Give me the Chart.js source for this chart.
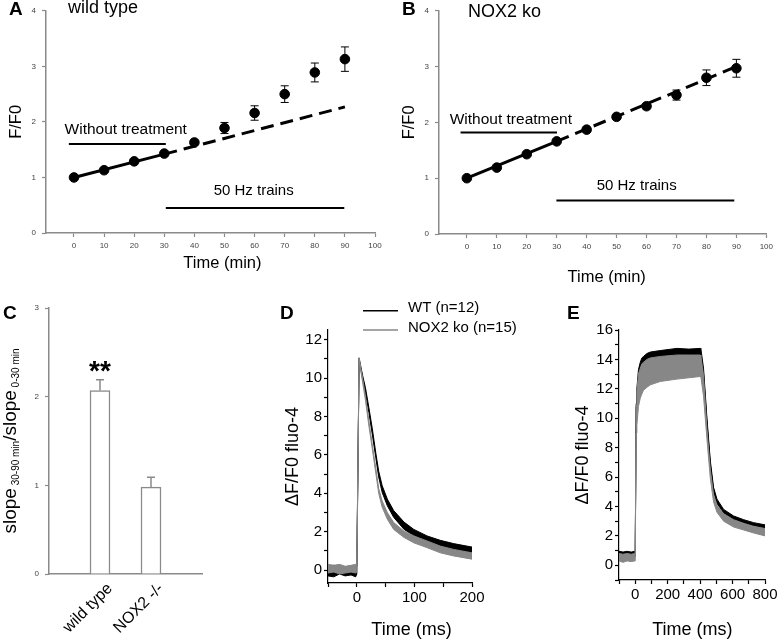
<!DOCTYPE html>
<html>
<head>
<meta charset="utf-8">
<script src="https://cdn.jsdelivr.net/npm/chart.js@4.4.1/dist/chart.umd.min.js"></script>
<style>
  body { margin: 0; background: #fff; }
  #page { position: relative; width: 777px; height: 642px; overflow: hidden; background: #fff; }
  canvas { position: absolute; }
</style>
</head>
<body>
<div id="page">
  <canvas id="panelA" width="390" height="280" style="left:0;top:0"></canvas>
  <canvas id="panelB" width="387" height="290" style="left:390px;top:0"></canvas>
  <canvas id="panelC" width="260" height="372" style="left:0;top:270px"></canvas>
  <canvas id="panelD" width="260" height="372" style="left:260px;top:270px"></canvas>
  <canvas id="panelE" width="262" height="372" style="left:520px;top:270px"></canvas>
</div>
<script>
const FONT = "'Liberation Sans', Arial, Helvetica, sans-serif";
const GREY = "#878787";
const AXIS_GREY = "#8a8a8a";

// A / B: F/F0 over time
const timeMin = [0, 10, 20, 30, 40, 50, 60, 70, 80, 90];
const wtRatio = [1.0, 1.13, 1.29, 1.43, 1.63, 1.89, 2.16, 2.50, 2.89, 3.13];
const wtRatioErr = [0.02, 0.02, 0.03, 0.03, 0.04, 0.10, 0.13, 0.15, 0.17, 0.22];
const koRatio = [1.0, 1.19, 1.43, 1.66, 1.87, 2.10, 2.29, 2.49, 2.80, 2.97];
const koRatioErr = [0.02, 0.03, 0.03, 0.03, 0.03, 0.03, 0.05, 0.09, 0.14, 0.16];
const fitTime = [0, 30, 90];
const wtFit = [1.0, 1.42, 2.27];
const koFit = [1.0, 1.66, 3.0];
const wtUntreatedTime = [-1.7, 30.5];
const wtUntreatedLevel = 1.6;
const wtTrainsTime = [30.5, 89.8];
const wtTrainsLevel = 0.45;
const koUntreatedTime = [-2.1, 30.1];
const koUntreatedLevel = 1.82;
const koTrainsTime = [29.9, 89.3];
const koTrainsLevel = 0.6;

// C: slope ratio
const slopeGroups = ["", "wild type", "NOX2 -/-", ""];
const slopeRatio = [null, 2.07, 0.98, null];
const slopeErr = [null, 0.12, 0.11, null];

// D: single transient (ms, dF/F0 envelope of the noisy traces)
const dTime = [-50, -40, -30, -20, -10, -2, 0, 4, 10, 15, 21, 27, 33, 38, 44, 53, 64, 82, 99, 122, 145, 168, 200];
const wtHiD = [0.2, 0.25, 0.2, 0.15, 0.2, 0.2, 0.2, 11.05, 10.15, 9.5, 8.45, 7.35, 6.1, 5.15, 4.4, 3.7, 3.1, 2.5, 2.12, 1.78, 1.55, 1.38, 1.2];
const wtLoD = [-0.3, -0.35, -0.2, -0.3, -0.25, -0.35, -0.2, 10.95, 9.95, 9.25, 8.2, 7.05, 5.85, 4.85, 4.05, 3.35, 2.75, 2.12, 1.8, 1.45, 1.22, 1.05, 0.88];
const koHiD = [0.3, 0.25, 0.3, 0.2, 0.25, 0.3, 0.3, 11.05, 10.0, 9.05, 7.75, 6.5, 5.3, 4.25, 3.6, 3.0, 2.48, 2.03, 1.78, 1.52, 1.25, 1.08, 0.9];
const koLoD = [-0.15, -0.1, -0.2, -0.15, -0.1, -0.15, -0.1, 10.95, 9.8, 8.85, 7.5, 6.3, 5.05, 4.0, 3.28, 2.65, 2.12, 1.7, 1.42, 1.17, 0.9, 0.74, 0.57];

// E: 50 Hz train (ms, dF/F0 envelope)
const eTime = [-100, -75, -50, -25, -2, 0, 6, 10, 20, 31, 41, 51, 72, 93, 154, 257, 330, 401, 405, 421, 442, 463, 483, 504, 545, 607, 669, 730, 800];
const wtHiE = [0.95, 0.9, 0.95, 0.9, 0.95, 0.95, 11.0, 12.0, 13.3, 13.8, 14.1, 14.2, 14.4, 14.5, 14.6, 14.75, 14.7, 14.75, 14.7, 13.4, 10.0, 7.1, 5.3, 4.5, 3.8, 3.35, 3.1, 2.9, 2.75];
const wtLoE = [0.6, 0.65, 0.55, 0.6, 0.6, 0.6, 10.8, 11.5, 12.8, 13.3, 13.6, 13.7, 13.9, 14.0, 14.1, 14.2, 14.2, 14.2, 14.2, 13.1, 9.8, 6.85, 5.0, 4.2, 3.55, 3.1, 2.88, 2.68, 2.5];
const koHiE = [0.8, 0.75, 0.8, 0.75, 0.8, 0.8, 10.9, 11.8, 13.0, 13.4, 13.7, 13.8, 14.0, 14.1, 14.2, 14.3, 14.3, 14.3, 14.2, 12.9, 9.3, 6.5, 4.8, 4.1, 3.5, 3.1, 2.85, 2.65, 2.5];
const koLoE = [0.3, 0.2, 0.3, 0.25, 0.3, 0.3, 9.0, 9.5, 10.8, 11.36, 11.65, 11.9, 12.1, 12.27, 12.5, 12.66, 12.75, 12.84, 12.8, 11.5, 8.6, 5.9, 4.3, 3.6, 3.0, 2.6, 2.4, 2.2, 2.0];

const font = (size, weight) => ({ family: FONT, size, weight: weight || "normal" });
const css = (size, weight) => `${weight || "normal"} ${size}px ${FONT}`;
const xy = (xs, ys) => xs.map((x, i) => ({ x, y: ys[i] }));

const errorBars = {
  id: "errorBars",
  afterDatasetsDraw(chart) {
    const ctx = chart.ctx;
    const ys = chart.scales.y;
    chart.data.datasets.forEach((ds, di) => {
      if (!ds.errors) return;
      chart.getDatasetMeta(di).data.forEach((el, i) => {
        const e = ds.errors[i];
        const raw = ds.data[i];
        if (e == null || raw == null) return;
        const v = typeof raw === "object" ? raw.y : raw;
        const top = ys.getPixelForValue(v + e);
        const bottom = ys.getPixelForValue(ds.errorUpOnly ? v : v - e);
        ctx.save();
        ctx.strokeStyle = ds.errorColor || "#000";
        ctx.lineWidth = ds.errorWidth || 1;
        ctx.beginPath();
        ctx.moveTo(el.x, bottom);
        ctx.lineTo(el.x, top);
        ctx.moveTo(el.x - 4, top);
        ctx.lineTo(el.x + 4, top);
        if (!ds.errorUpOnly) {
          ctx.moveTo(el.x - 4, bottom);
          ctx.lineTo(el.x + 4, bottom);
        }
        ctx.stroke();
        ctx.restore();
      });
    });
  },
};

// texts placed either in data units (xv / yv) or canvas pixels (px / py)
function notes(items) {
  return {
    id: "notes",
    afterDraw(chart) {
      const { ctx, scales } = chart;
      items.forEach((n) => {
        const x = (n.xv !== undefined ? scales.x.getPixelForValue(n.xv) : n.px) + (n.dx || 0);
        const y = n.yv !== undefined ? scales.y.getPixelForValue(n.yv) : n.py;
        ctx.save();
        ctx.font = n.font;
        ctx.fillStyle = n.color || "#000";
        ctx.textAlign = n.align || "center";
        ctx.textBaseline = n.base || "middle";
        ctx.translate(x, y);
        if (n.rot) ctx.rotate(n.rot);
        ctx.fillText(n.text, 0, 0);
        ctx.restore();
      });
    },
  };
}

function tickGrid(color) {
  return { drawOnChartArea: false, tickLength: 4, tickColor: color, tickWidth: 1.2 };
}

function timeCourse(id, cfg) {
  const line = (xs, ys, extra) => Object.assign({
    data: xy(xs, ys), showLine: true, pointRadius: 0,
    borderColor: "#000", backgroundColor: "#000", borderWidth: 2,
  }, extra);
  return new Chart(document.getElementById(id), {
    type: "scatter",
    data: {
      datasets: [
        { data: xy(timeMin, cfg.ratio), errors: cfg.err, pointRadius: 4.8,
          backgroundColor: "#000", borderColor: "#000" },
        line(fitTime.slice(0, 2), cfg.fit.slice(0, 2), { borderWidth: 3 }),
        line(fitTime.slice(1), cfg.fit.slice(1), { borderWidth: 3, borderDash: [13, 7] }),
        line(cfg.untreatedTime, [cfg.untreatedLevel, cfg.untreatedLevel]),
        line(cfg.trainsTime, [cfg.trainsLevel, cfg.trainsLevel]),
      ],
    },
    options: {
      responsive: false, animation: false, events: [],
      layout: { padding: { top: 5, right: cfg.padRight, left: 0, bottom: 0 } },
      plugins: { legend: { display: false }, tooltip: { enabled: false } },
      scales: {
        x: {
          type: "linear", min: -9.3, max: 100,
          afterFit: (s) => { s.height = cfg.xHeight; },
          ticks: { stepSize: 10, includeBounds: false, autoSkip: false, maxRotation: 0, padding: 4, color: "#444", font: font(8) },
          grid: tickGrid(AXIS_GREY),
          border: { color: AXIS_GREY, width: 1.5 },
        },
        y: {
          min: 0, max: 4,
          afterFit: (s) => { s.width = cfg.yWidth; },
          ticks: { stepSize: 1, padding: 6, color: "#444", font: font(8) },
          grid: tickGrid(AXIS_GREY),
          border: { color: AXIS_GREY, width: 1.5 },
          title: { display: true, text: "F/F0", color: "#000", font: font(16.5), padding: { top: cfg.yTitlePad, bottom: 0 } },
        },
      },
    },
    plugins: [errorBars, notes(cfg.notes)],
  });
}

timeCourse("panelA", {
  ratio: wtRatio, err: wtRatioErr, fit: wtFit,
  untreatedTime: wtUntreatedTime, untreatedLevel: wtUntreatedLevel,
  trainsTime: wtTrainsTime, trainsLevel: wtTrainsLevel,
  padRight: 15, xHeight: 47, yWidth: 46, yTitlePad: 7,
  notes: [
    { text: "A", px: 9, py: 10, align: "left", font: css(19, "bold") },
    { text: "wild type", px: 68, py: 13, align: "left", base: "alphabetic", font: css(18) },
    { text: "Without treatment", xv: 17.2, yv: 1.86, font: css(15.5) },
    { text: "50 Hz trains", xv: 59.7, yv: 0.76, font: css(15) },
    { text: "Time (min)", xv: 49.3, py: 263, font: css(16.5) },
  ],
});

timeCourse("panelB", {
  ratio: koRatio, err: koRatioErr, fit: koFit,
  untreatedTime: koUntreatedTime, untreatedLevel: koUntreatedLevel,
  trainsTime: koTrainsTime, trainsLevel: koTrainsLevel,
  padRight: 10, xHeight: 56, yWidth: 49, yTitlePad: 10,
  notes: [
    { text: "B", px: 12, py: 10, align: "left", font: css(19, "bold") },
    { text: "NOX2 ko", px: 78, py: 16.5, align: "left", base: "alphabetic", font: css(18) },
    { text: "Without treatment", xv: 14.7, yv: 2.05, font: css(15.5) },
    { text: "50 Hz trains", xv: 56.7, yv: 0.87, font: css(15) },
    { text: "Time (min)", xv: 46.7, py: 277, font: css(16.5) },
  ],
});

// C: bar chart, y title with subscripts
const slopeTitle = {
  id: "slopeTitle",
  afterDraw(chart) {
    const ctx = chart.ctx;
    const runs = [["slope", 19, 0], [" 30-90 min", 10, 2.5], ["/slope", 19, 0], [" 0-30 min", 10, 2.5]];
    ctx.save();
    ctx.translate(16, (chart.chartArea.top + chart.chartArea.bottom) / 2);
    ctx.rotate(-Math.PI / 2);
    ctx.fillStyle = "#000";
    ctx.textBaseline = "alphabetic";
    ctx.textAlign = "left";
    let total = 0;
    runs.forEach(([t, s]) => { ctx.font = css(s); total += ctx.measureText(t).width; });
    let x = -total / 2;
    runs.forEach(([t, s, dy]) => {
      ctx.font = css(s);
      ctx.fillText(t, x, dy);
      x += ctx.measureText(t).width;
    });
    ctx.restore();
  },
};

const groupLabels = slopeGroups
  .map((g, i) => ({ text: g, xv: i, dx: 10, py: 316, rot: -Math.PI / 4, align: "right", font: css(16) }))
  .filter((n) => n.text);

new Chart(document.getElementById("panelC"), {
  type: "bar",
  data: {
    labels: slopeGroups,
    datasets: [{
      data: slopeRatio, errors: slopeErr, errorUpOnly: true, errorColor: AXIS_GREY, errorWidth: 1.5,
      backgroundColor: "#fff", borderColor: AXIS_GREY, borderWidth: 1.5, barThickness: 20,
    }],
  },
  options: {
    responsive: false, animation: false, events: [],
    layout: { padding: { top: 38, right: 58, left: 0, bottom: 0 } },
    plugins: { legend: { display: false }, tooltip: { enabled: false } },
    scales: {
      x: {
        offset: false,
        afterFit: (s) => { s.height = 68; },
        ticks: { display: false },
        grid: { display: false },
        border: { color: AXIS_GREY, width: 1.5 },
      },
      y: {
        min: 0, max: 3,
        afterFit: (s) => { s.width = 49; },
        ticks: { stepSize: 1, padding: 6, color: "#444", font: font(8) },
        grid: tickGrid(AXIS_GREY),
        border: { color: AXIS_GREY, width: 1.5 },
      },
    },
  },
  plugins: [errorBars, slopeTitle, notes([
    { text: "C", px: 3, py: 43.3, align: "left", font: css(19, "bold") },
    { text: "**", xv: 1, yv: 2.19, base: "alphabetic", font: css(28, "bold") },
    ...groupLabels,
  ])],
});

// D / E: fluo-4 traces drawn as filled noise envelopes
function band(xs, lo, hi, color, label) {
  return [
    { data: xy(xs, lo), showLine: true, pointRadius: 0, borderColor: color, borderWidth: 1, fill: false },
    { label, data: xy(xs, hi), showLine: true, pointRadius: 0, borderColor: color, borderWidth: 1,
      backgroundColor: color, fill: "-1" },
  ];
}

const traceLegend = {
  id: "traceLegend",
  afterDraw(chart) {
    const ctx = chart.ctx;
    const items = [chart.data.datasets[3], chart.data.datasets[1]];
    items.forEach((ds, i) => {
      const y = 40.7 + i * 19.3;
      ctx.save();
      ctx.strokeStyle = ds.borderColor;
      ctx.lineWidth = 1.5;
      ctx.beginPath();
      ctx.moveTo(103, y);
      ctx.lineTo(138, y);
      ctx.stroke();
      ctx.fillStyle = "#000";
      ctx.font = css(15);
      ctx.textBaseline = "alphabetic";
      ctx.fillText(ds.label, 148, y + 1.5);
      ctx.restore();
    });
  },
};

function traceChart(id, cfg) {
  return new Chart(document.getElementById(id), {
    type: "scatter",
    data: { datasets: cfg.datasets },
    options: {
      responsive: false, animation: false, events: [],
      layout: { padding: { top: 60, right: cfg.padRight, left: 0, bottom: 0 } },
      plugins: { legend: { display: false }, tooltip: { enabled: false } },
      scales: {
        x: {
          min: cfg.xMin, max: cfg.xMax,
          afterFit: (s) => { s.height = cfg.xHeight; },
          ticks: { stepSize: cfg.xStep, includeBounds: false, autoSkip: false, maxRotation: 0, padding: 2, color: "#000", font: font(15),
            callback: (v) => (v >= 0 && v % cfg.xLabelStep === 0 ? v : "") },
          grid: tickGrid("#000"),
          border: { color: "#000", width: 1.2 },
        },
        y: {
          min: cfg.yMin, max: cfg.yMax,
          afterFit: (s) => { s.width = cfg.yWidth; },
          ticks: { stepSize: 1, includeBounds: false, autoSkip: false, padding: 2, color: "#000", font: font(15),
            callback: (v) => (v >= 0 && v % 2 === 0 ? v : "") },
          grid: tickGrid("#000"),
          border: { color: "#000", width: 1.2 },
          title: { display: true, text: "\u0394F/F0 fluo-4", color: "#000", font: font(18), padding: { top: cfg.yTitlePad, bottom: 0 } },
        },
      },
    },
    plugins: cfg.plugins,
  });
}

traceChart("panelD", {
  datasets: [...band(dTime, koLoD, koHiD, GREY, "NOX2 ko (n=15)"), ...band(dTime, wtLoD, wtHiD, "#000", "WT (n=12)")],
  xMin: -50, xMax: 200, xStep: 50, xLabelStep: 100,
  yMin: -0.67, yMax: 12.5,
  padRight: 48, xHeight: 59, yWidth: 68, yTitlePad: 22,
  plugins: [traceLegend, notes([
    { text: "D", px: 20, py: 43.3, align: "left", font: css(19, "bold") },
    { text: "Time (ms)", xv: 95, py: 360.3, font: css(18) },
  ])],
});

traceChart("panelE", {
  datasets: [...band(eTime, koLoE, koHiE, GREY, "NOX2 ko"), ...band(eTime, wtLoE, wtHiE, "#000", "WT")],
  xMin: -100, xMax: 800, xStep: 100, xLabelStep: 200,
  yMin: -1, yMax: 16,
  padRight: 17, xHeight: 62, yWidth: 99, yTitlePad: 52,
  plugins: [notes([
    { text: "E", px: 47, py: 43.3, align: "left", font: css(19, "bold") },
    { text: "Time (ms)", xv: 352, py: 360.3, font: css(18) },
  ])],
});
</script>
</body>
</html>
